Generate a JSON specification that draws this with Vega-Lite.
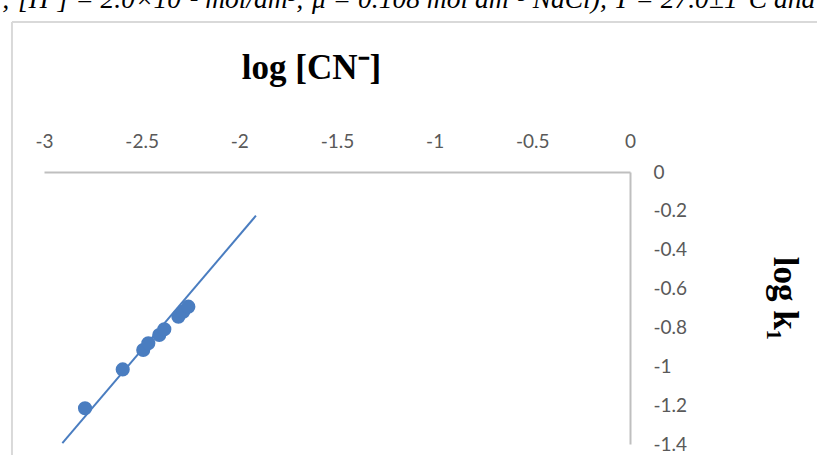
{
  "$schema": "https://vega.github.io/schema/vega-lite/v6.json",
  "width": 586,
  "height": 272,
  "autosize": {"type": "none"},
  "padding": {"left": 44, "top": 172, "right": 187, "bottom": 11},
  "background": "white",
  "config": {"view": {"stroke": null}, "axis": {"labelOverlap": false, "labelFlush": false}},
  "datasets": {
    "points": [
      {"logCN": -2.790, "logk1": -1.216},
      {"logCN": -2.597, "logk1": -1.016},
      {"logCN": -2.492, "logk1": -0.916},
      {"logCN": -2.466, "logk1": -0.882},
      {"logCN": -2.410, "logk1": -0.839},
      {"logCN": -2.384, "logk1": -0.810},
      {"logCN": -2.312, "logk1": -0.745},
      {"logCN": -2.287, "logk1": -0.719},
      {"logCN": -2.261, "logk1": -0.693}
    ],
    "fit": [
      {"logCN": -2.906, "logk1": -1.396},
      {"logCN": -1.915, "logk1": -0.225}
    ],
    "caption": [
      {"label": "; [H⁺] = 2.0×10⁻² mol/dm³; μ = 0.108 mol dm⁻³ NaCl), T = 27.0±1°C and"}
    ],
    "frame": [
      {"name": "chart area"}
    ]
  },
  "layer": [
    {
      "data": {"name": "frame"},
      "mark": {"type": "rule", "color": "#d9d9d9", "strokeWidth": 2, "clip": false},
      "encoding": {
        "x": {"datum": -3.164, "type": "quantitative", "scale": {"domain": [-3, 0]}},
        "y": {"datum": 0.772, "type": "quantitative", "scale": {"domain": [-1.4, 0]}},
        "y2": {"datum": -1.7}
      }
    },
    {
      "data": {"name": "frame"},
      "mark": {"type": "rule", "color": "#d9d9d9", "strokeWidth": 2, "clip": false},
      "encoding": {
        "x": {"datum": -3.164, "type": "quantitative", "scale": {"domain": [-3, 0]}},
        "x2": {"datum": 1.2},
        "y": {"datum": 0.772, "type": "quantitative", "scale": {"domain": [-1.4, 0]}}
      }
    },
    {
      "data": {"name": "caption"},
      "mark": {"type": "text", "font": "Liberation Serif", "fontStyle": "italic", "fontSize": 27.5, "color": "black", "align": "left", "baseline": "alphabetic", "clip": false},
      "encoding": {
        "x": {"datum": -3.215, "type": "quantitative", "scale": {"domain": [-3, 0]}},
        "y": {"datum": 0.844, "type": "quantitative", "scale": {"domain": [-1.4, 0]}},
        "text": {"field": "label", "type": "nominal"}
      }
    },
    {
      "data": {"name": "fit"},
      "mark": {"type": "line", "color": "#4A7DC0", "strokeWidth": 2},
      "encoding": {
        "x": {"field": "logCN", "type": "quantitative", "scale": {"domain": [-3, 0]}},
        "y": {"field": "logk1", "type": "quantitative", "scale": {"domain": [-1.4, 0]}}
      }
    },
    {
      "data": {"name": "points"},
      "mark": {"type": "point", "filled": true, "shape": "circle", "size": 200, "color": "#4A7DC0", "opacity": 1},
      "encoding": {
        "x": {
          "field": "logCN", "type": "quantitative",
          "scale": {"domain": [-3, 0]},
          "axis": {
            "orient": "top",
            "title": "log [CN⁻]",
            "titleFont": "Liberation Serif", "titleFontWeight": "bold", "titleFontSize": 35, "titleColor": "black",
            "titleX": 267, "titleY": -94, "titleAlign": "center", "titleBaseline": "alphabetic", "titleAngle": 0,
            "values": [-3, -2.5, -2, -1.5, -1, -0.5, 0],
            "tickCount": 20,
            "labelExpr": "'' + datum.value",
            "labelFont": "Lato", "labelFontSize": 19, "labelColor": "#595959",
            "labelBaseline": "alphabetic", "labelPadding": 25, "labelFlush": false, "labelOverlap": false,
            "ticks": false, "tickSize": 0, "grid": false,
            "domainColor": "#bfbfbf", "domainWidth": 2
          }
        },
        "y": {
          "field": "logk1", "type": "quantitative",
          "scale": {"domain": [-1.4, 0]},
          "axis": {
            "orient": "right",
            "title": "log k₁",
            "titleFont": "Liberation Serif", "titleFontWeight": "bold", "titleFontSize": 35, "titleColor": "black",
            "titleX": 143, "titleY": 126, "titleAlign": "center", "titleBaseline": "alphabetic", "titleAngle": 90,
            "values": [0, -0.2, -0.4, -0.6, -0.8, -1, -1.2, -1.4],
            "tickCount": 20,
            "labelExpr": "'' + datum.value",
            "labelFont": "Lato", "labelFontSize": 19, "labelColor": "#595959",
            "labelAlign": "left", "labelBaseline": "middle", "labelPadding": 23, "labelFlush": false, "labelOverlap": false,
            "ticks": false, "tickSize": 0, "grid": false,
            "domainColor": "#bfbfbf", "domainWidth": 2
          }
        }
      }
    }
  ]
}
